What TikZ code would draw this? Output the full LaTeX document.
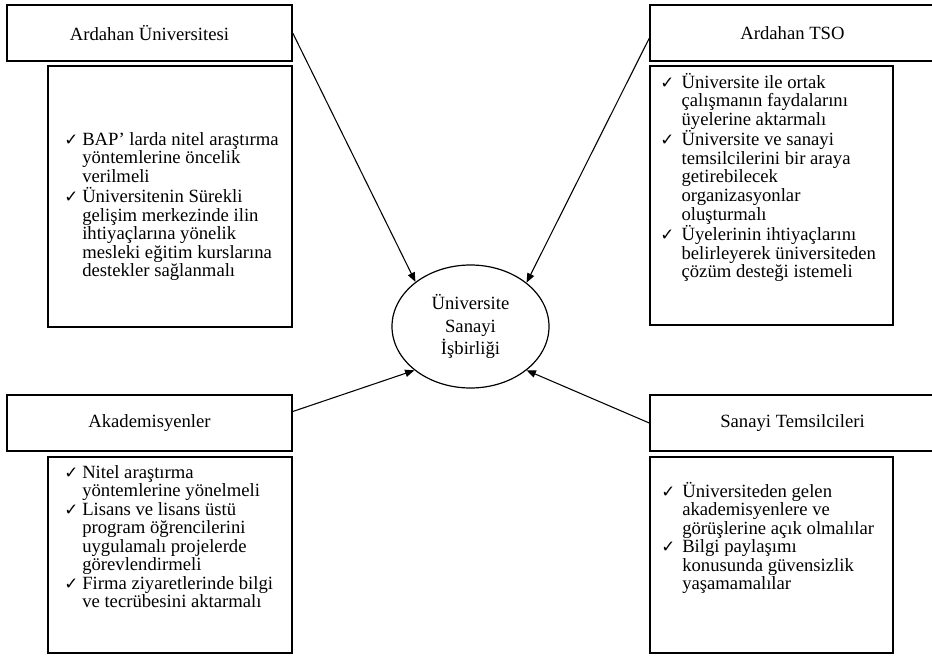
\documentclass[tikz,border=0pt]{standalone}
\usepackage{fontspec}
\setmainfont{Liberation Serif}
\newfontfamily\chkfont{DejaVu Sans}
\usetikzlibrary{arrows.meta, calc, shapes.geometric}
\newcommand{\chk}[1]{\makebox[#1][l]{\chkfont\fontsize{12.5}{12.5}\selectfont ✓}}
\renewcommand{\arraystretch}{1}

\begin{document}
\begin{tikzpicture}[x = 0.75pt, y = -0.75pt,
	header/.style = {draw, line width = 1.1pt, minimum width = 213.75pt, minimum height = 42pt, inner sep = 0pt, font = \fontsize{14}{13.75}\selectfont},
	listbox/.style = {draw, line width = 0.9pt, inner sep = 0pt},
	listtext/.style = {anchor = base west, inner sep = 0pt, font = \fontsize{14}{13.9}\selectfont},
	link/.style = {line width = 0.8pt, -{Triangle[length = 7pt, width = 5.5pt]}}
	]
	\useasboundingbox (0,0) rectangle (932,657);
	\clip (0,0) rectangle (932,657);

	\node[header] (aru) at (149.5,33) {Ardahan Üniversitesi};
	\node[header] (tso) at (792.5,33) {Ardahan TSO};
	\node[header] (akd) at (149.5,423) {Akademisyenler};
	\node[header] (san) at (792.5,423) {Sanayi Temsilcileri};

	\node[listbox, minimum width = 183pt, minimum height = 195.75pt] (arubox) at (170,196.5) {};
	\node[listbox, minimum width = 182.25pt, minimum height = 194.25pt] (tsobox) at (771.5,195.5) {};
	\node[listbox, minimum width = 183pt, minimum height = 147pt] (akdbox) at (170,555) {};
	\node[listbox, minimum width = 182.25pt, minimum height = 147pt] (sanbox) at (771.5,555) {};

	\node[draw, ellipse, line width = 0.9pt, minimum width = 117.75pt, minimum height = 92.25pt, inner sep = 0pt, align = center, font = \fontsize{14}{16.75}\selectfont] (isb) at (470.5,326.5) {Üniversite\\Sanayi\\İşbirliği};

	\node[listtext] (arutext) at (64,145) {\begin{tabular}[t]{@{}l@{}l@{}}
		\chk{13.5pt} & BAP’ larda nitel araştırma\\
		& yöntemlerine öncelik\\
		& verilmeli\\
		\chk{13.5pt} & Üniversitenin Sürekli\\
		& gelişim merkezinde ilin\\
		& ihtiyaçlarına yönelik\\
		& mesleki eğitim kurslarına\\
		& destekler sağlanmalı
	\end{tabular}};
	\node[listtext] (tsotext) at (660,88) {\begin{tabular}[t]{@{}l@{}l@{}}
		\chk{16pt} & Üniversite ile ortak\\
		& çalışmanın faydalarını\\
		& üyelerine aktarmalı\\
		\chk{16pt} & Üniversite ve sanayi\\
		& temsilcilerini bir araya\\
		& getirebilecek\\
		& organizasyonlar\\
		& oluşturmalı\\
		\chk{16pt} & Üyelerinin ihtiyaçlarını\\
		& belirleyerek üniversiteden\\
		& çözüm desteği istemeli
	\end{tabular}};
	\node[listtext] (akdtext) at (64,478) {\begin{tabular}[t]{@{}l@{}l@{}}
		\chk{13.5pt} & Nitel araştırma\\
		& yöntemlerine yönelmeli\\
		\chk{13.5pt} & Lisans ve lisans üstü\\
		& program öğrencilerini\\
		& uygulamalı projelerde\\
		& görevlendirmeli\\
		\chk{13.5pt} & Firma ziyaretlerinde bilgi\\
		& ve tecrübesini aktarmalı
	\end{tabular}};
	\node[listtext] (santext) at (661,497) {\begin{tabular}[t]{@{}l@{}l@{}}
		\chk{15.75pt} & Üniversiteden gelen\\
		& akademisyenlere ve\\
		& görüşlerine açık olmalılar\\
		\chk{15.75pt} & Bilgi paylaşımı\\
		& konusunda güvensizlik\\
		& yaşamamalılar
	\end{tabular}};

	\draw[link] (aru.east) -- (isb.141);
	\draw[link] ($(tso.north west)!0.59!(tso.south west)$) -- (isb.38);
	\draw[link] ($(akd.north east)!0.3!(akd.south east)$) -- (isb.218);
	\draw[link] (san.west) -- (isb.-38);
\end{tikzpicture}
\end{document}
